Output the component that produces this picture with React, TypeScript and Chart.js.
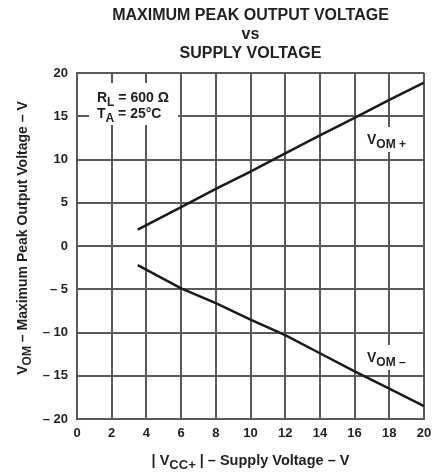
import React, { useEffect, useRef } from "react";
import { Chart, registerables } from "chart.js";

Chart.register(...registerables);

const supplyVoltage = [3.5, 6, 8, 10, 12, 14, 16, 18, 20];
const vomPlus = [1.9, 4.5, 6.6, 8.6, 10.7, 12.8, 14.8, 16.9, 18.9];
const vomMinus = [-2.2, -4.9, -6.6, -8.5, -10.3, -12.4, -14.5, -16.5, -18.5];
const xTicks = [0, 2, 4, 6, 8, 10, 12, 14, 16, 18, 20];
const yTicks = [-20, -15, -10, -5, 0, 5, 10, 15, 20];
const titleLines = ["MAXIMUM PEAK OUTPUT VOLTAGE", "vs", "SUPPLY VOLTAGE"];

const FONT = '"Liberation Sans", Arial, Helvetica, sans-serif';
const TEXT = "#231f20";
const GRID = "#5a5a5a";

type Run = { t: string; sub?: boolean };

function runWidth(ctx: CanvasRenderingContext2D, runs: Run[], size: number) {
  let w = 0;
  for (const r of runs) {
    ctx.font = `bold ${r.sub ? Math.round(size * 0.88) : size}px ${FONT}`;
    w += ctx.measureText(r.t).width;
  }
  return w;
}

function drawRuns(
  ctx: CanvasRenderingContext2D,
  runs: Run[],
  x: number,
  y: number,
  size: number,
  align: "left" | "center"
) {
  const w = runWidth(ctx, runs, size);
  let cx = align === "center" ? x - w / 2 : x;
  ctx.textBaseline = "alphabetic";
  ctx.textAlign = "left";
  for (const r of runs) {
    const s = r.sub ? Math.round(size * 0.88) : size;
    ctx.font = `bold ${s}px ${FONT}`;
    ctx.fillText(r.t, cx, r.sub ? y + size * 0.28 : y);
    cx += ctx.measureText(r.t).width;
  }
  return w;
}

const textPlugin = {
  id: "texts",
  afterDraw(chart: any) {
    const ctx: CanvasRenderingContext2D = chart.ctx;
    const area = chart.chartArea;
    const cx = (area.left + area.right) / 2;
    ctx.save();
    ctx.fillStyle = TEXT;
    // Title
    ctx.font = `bold 16px ${FONT}`;
    ctx.textAlign = "center";
    ctx.textBaseline = "alphabetic";
    const titleY = [20, 39, 58];
    titleLines.forEach((l, i) => ctx.fillText(l, cx, titleY[i]));

    // Annotation box upper-left
    ctx.fillStyle = "#ffffff";
    ctx.fillRect(89, 83, 89, 42);
    ctx.fillStyle = TEXT;
    drawRuns(ctx, [{ t: "R" }, { t: "L", sub: true }, { t: " = 600 Ω" }], 97, 102, 14, "left");
    drawRuns(ctx, [{ t: "T" }, { t: "A", sub: true }, { t: " = 25°C" }], 97, 118, 14, "left");

    // VOM+ label
    ctx.fillStyle = "#ffffff";
    ctx.fillRect(364, 127, 54, 25);
    ctx.fillStyle = TEXT;
    drawRuns(ctx, [{ t: "V" }, { t: "OM +", sub: true }], 367, 144, 14, "left");

    // VOM- label
    ctx.fillStyle = "#ffffff";
    ctx.fillRect(364, 345, 56, 25);
    ctx.fillStyle = TEXT;
    drawRuns(ctx, [{ t: "V" }, { t: "OM –", sub: true }], 367, 362, 14, "left");

    // X axis title
    drawRuns(
      ctx,
      [{ t: "| V" }, { t: "CC+", sub: true }, { t: " | – Supply Voltage – V" }],
      cx,
      465,
      14.5,
      "center"
    );

    // Y axis title (rotated)
    ctx.translate(27, (area.top + area.bottom) / 2 - 8);
    ctx.rotate(-Math.PI / 2);
    drawRuns(
      ctx,
      [{ t: "V" }, { t: "OM", sub: true }, { t: " – Maximum Peak Output Voltage – V" }],
      0,
      0,
      14,
      "center"
    );
    ctx.restore();
  },
};

export default function App() {
  const ref = useRef<HTMLCanvasElement | null>(null);
  useEffect(() => {
    if (!ref.current) return;
    const chart = new Chart(ref.current, {
      type: "scatter",
      data: {
        datasets: [
          {
            label: "VOM+",
            data: supplyVoltage.map((x, i) => ({ x, y: vomPlus[i] })),
            showLine: true,
            borderColor: "#1a1a1a",
            borderWidth: 2.5,
            pointRadius: 0,
            tension: 0,
          },
          {
            label: "VOM-",
            data: supplyVoltage.map((x, i) => ({ x, y: vomMinus[i] })),
            showLine: true,
            borderColor: "#1a1a1a",
            borderWidth: 2.5,
            pointRadius: 0,
            tension: 0,
          },
        ],
      },
      options: {
        responsive: false,
        animation: false,
        layout: { padding: { left: 17, right: 15, top: 73, bottom: 0 } },
        plugins: {
          legend: { display: false },
          tooltip: { enabled: false },
          title: { display: false },
        },
        scales: {
          x: {
            type: "linear",
            min: 0,
            max: 20,
            afterBuildTicks: (s: any) => {
              s.ticks = xTicks.map((v) => ({ value: v }));
            },
            afterFit: (s: any) => {
              s.height = 54;
            },
            ticks: {
              padding: 7,
              color: TEXT,
              font: { family: FONT, size: 13, weight: "bold" },
              maxRotation: 0,
              callback: (v: any) => String(v),
            },
            grid: { color: GRID, lineWidth: 2, drawTicks: false },
            border: { display: true, color: GRID, width: 2 },
          },
          y: {
            type: "linear",
            min: -20,
            max: 20,
            afterBuildTicks: (s: any) => {
              s.ticks = yTicks.map((v) => ({ value: v }));
            },
            afterFit: (s: any) => {
              s.width = 60;
            },
            ticks: {
              padding: 9,
              color: TEXT,
              font: { family: FONT, size: 13, weight: "bold" },
              callback: (v: any) => (Number(v) < 0 ? "– " + Math.abs(Number(v)) : String(v)),
            },
            grid: { color: GRID, lineWidth: 2, drawTicks: false },
            border: { display: true, color: GRID, width: 2 },
          },
        },
      },
      plugins: [textPlugin],
    } as any);
    return () => chart.destroy();
  }, []);
  return (
    <div style={{ position: "fixed", left: 0, top: 0, width: 439, height: 473, background: "#fff" }}>
      <canvas ref={ref} width={439} height={473} />
    </div>
  );
}
